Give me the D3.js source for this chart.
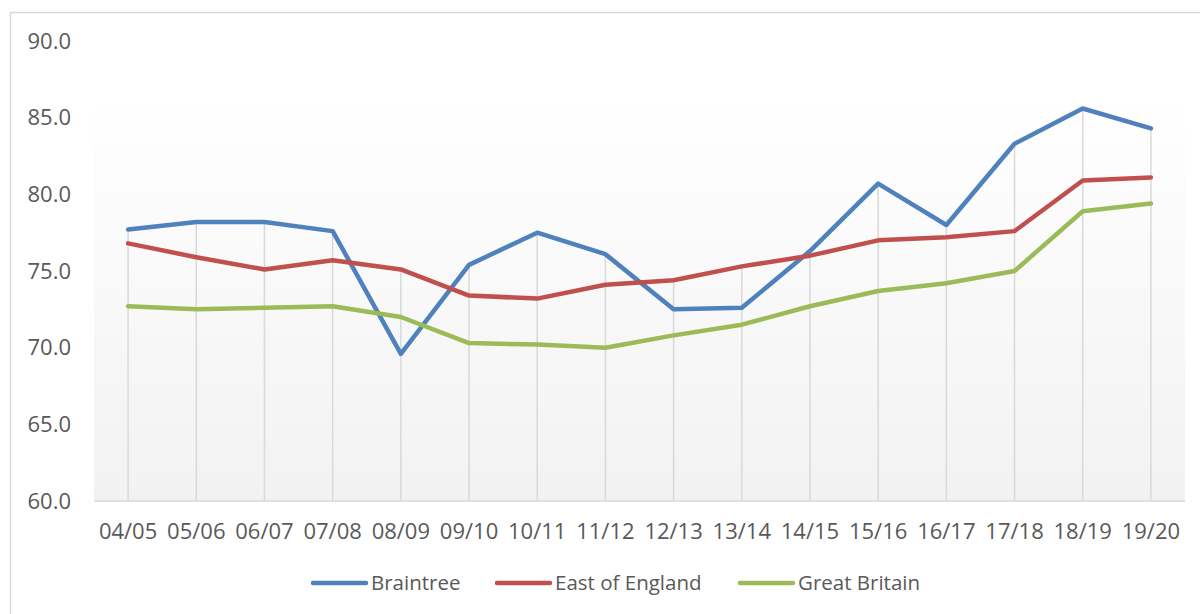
<!DOCTYPE html>
<html>
<head>
<meta charset="utf-8">
<script src="https://cdn.jsdelivr.net/npm/d3@7"></script>
<style>
  body { margin: 0; background: #fff; }
  svg { display: block; font-family: "Open Sans", sans-serif; }
</style>
</head>
<body>
<div id="chart"></div>
<script>
// ---- data ----
const years = ['04/05','05/06','06/07','07/08','08/09','09/10','10/11','11/12',
               '12/13','13/14','14/15','15/16','16/17','17/18','18/19','19/20'];
const braintree = [77.7, 78.2, 78.2, 77.6, 69.6, 75.4, 77.5, 76.1, 72.5, 72.6, 76.3, 80.7, 78.0, 83.3, 85.6, 84.3];
const eastOfEngland = [76.8, 75.9, 75.1, 75.7, 75.1, 73.4, 73.2, 74.1, 74.4, 75.3, 76.0, 77.0, 77.2, 77.6, 80.9, 81.1];
const greatBritain = [72.7, 72.5, 72.6, 72.7, 72.0, 70.3, 70.2, 70.0, 70.8, 71.5, 72.7, 73.7, 74.2, 75.0, 78.9, 79.4];
const yTicks = [60, 65, 70, 75, 80, 85, 90];

const series = [
  { name: 'Braintree', values: braintree, color: '#4f81bd' },
  { name: 'East of England', values: eastOfEngland, color: '#c0504d' },
  { name: 'Great Britain', values: greatBritain, color: '#9bbb59' }
];

// ---- layout ----
const W = 1200, H = 614;
const plot = { left: 94, right: 1185, top: 95, bottom: 501 };

const svg = d3.select('#chart').append('svg')
  .attr('width', W).attr('height', H);

// outer border
svg.append('rect')
  .attr('x', 10.5).attr('y', 12.5)
  .attr('width', 1200).attr('height', 620)
  .attr('fill', '#fff').attr('stroke', '#d9d9d9').attr('stroke-width', 1.5);

const x = d3.scaleBand().domain(years).range([plot.left, plot.right]);
const cx = d => x(d) + x.bandwidth() / 2;
const y = d3.scaleLinear().domain([60, 90]).range([501, 41]);

// plot background gradient
const grad = svg.append('defs').append('linearGradient')
  .attr('id', 'bg').attr('x1', 0).attr('y1', 0).attr('x2', 0).attr('y2', 1);
grad.append('stop').attr('offset', '0%').attr('stop-color', '#ffffff');
grad.append('stop').attr('offset', '100%').attr('stop-color', '#f2f2f2');

svg.append('rect')
  .attr('x', plot.left).attr('y', plot.top)
  .attr('width', plot.right - plot.left).attr('height', plot.bottom - plot.top)
  .attr('fill', 'url(#bg)');

// drop lines from highest point to axis
svg.append('g').selectAll('line')
  .data(years)
  .join('line')
  .attr('x1', d => cx(d)).attr('x2', d => cx(d))
  .attr('y1', (d, i) => y(d3.max(series, s => s.values[i])))
  .attr('y2', y(60))
  .attr('stroke', '#d9d9d9').attr('stroke-width', 1.5);

// x axis baseline
svg.append('line')
  .attr('x1', plot.left).attr('x2', plot.right)
  .attr('y1', y(60)).attr('y2', y(60))
  .attr('stroke', '#d9d9d9').attr('stroke-width', 1.5);

// y labels
svg.append('g').selectAll('text')
  .data(yTicks)
  .join('text')
  .attr('x', 71).attr('y', d => y(d))
  .attr('dy', '0.35em')
  .attr('text-anchor', 'end')
  .attr('font-size', 22).attr('fill', '#595959')
  .text(d => d.toFixed(1));

// x labels
svg.append('g').selectAll('text')
  .data(years)
  .join('text')
  .attr('x', d => cx(d)).attr('y', 531)
  .attr('dy', '0.35em')
  .attr('text-anchor', 'middle')
  .attr('font-size', 22).attr('fill', '#595959')
  .text(d => d);

// lines
const line = d3.line()
  .x((v, i) => cx(years[i]))
  .y(v => y(v));

svg.append('g').selectAll('path')
  .data(series)
  .join('path')
  .attr('d', s => line(s.values))
  .attr('fill', 'none')
  .attr('stroke', s => s.color)
  .attr('stroke-width', 4.5)
  .attr('stroke-linejoin', 'round')
  .attr('stroke-linecap', 'round');

// legend
const legendX = [313, 497, 740];
const legend = svg.append('g').selectAll('g')
  .data(series)
  .join('g')
  .attr('transform', (d, i) => 'translate(' + legendX[i] + ',583)');

legend.append('line')
  .attr('x1', 0).attr('x2', 53)
  .attr('stroke', d => d.color).attr('stroke-width', 4.5)
  .attr('stroke-linecap', 'round');

legend.append('text')
  .attr('x', 58).attr('dy', '0.35em')
  .attr('font-size', 20.5).attr('fill', '#595959')
  .text(d => d.name);
</script>
</body>
</html>
